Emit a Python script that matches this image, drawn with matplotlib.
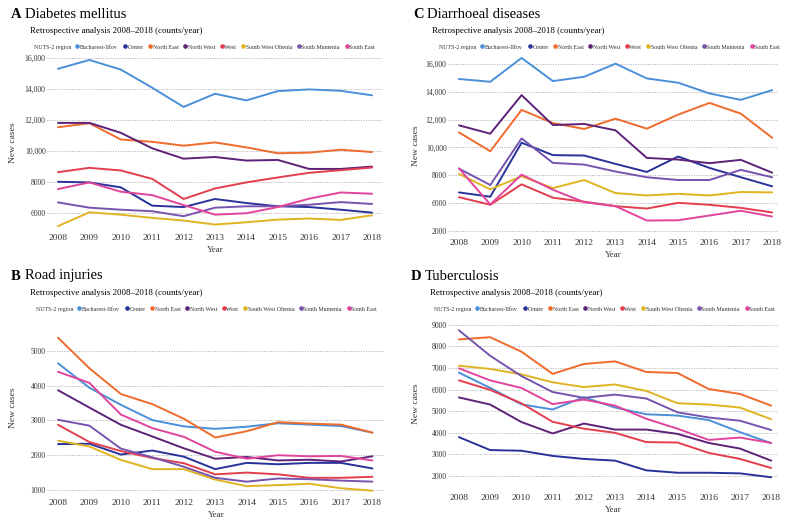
import numpy as np
import matplotlib.pyplot as plt
from matplotlib.lines import Line2D

plt.rcParams['font.family'] = ['Liberation Serif', 'DejaVu Serif']

years = list(range(2008, 2019))
regions = ['Bucharest-Ilfov', 'Center', 'North East', 'North West', 'West',
           'South West Oltenia', 'South Muntenia', 'South East']
colors = ['#4a8fd8', '#27339a', '#f06a2c', '#5e2178', '#e23e4e',
          '#e0b420', '#7654ae', '#e2449c']

# Diabetes mellitus
diabetes = {
    'Bucharest-Ilfov': [15300, 15870, 15250, 14080, 12840, 13690, 13260, 13860, 13970, 13880, 13590],
    'Center': [8010, 7970, 7650, 6470, 6380, 6900, 6640, 6430, 6380, 6210, 6020],
    'North East': [11530, 11790, 10740, 10590, 10340, 10550, 10230, 9850, 9890, 10080, 9930],
    'North West': [11810, 11810, 11170, 10170, 9500, 9610, 9380, 9420, 8840, 8840, 8990],
    'West': [8630, 8910, 8740, 8200, 6900, 7580, 7970, 8290, 8590, 8760, 8930],
    'South West Oltenia': [5150, 6040, 5890, 5680, 5510, 5250, 5400, 5570, 5640, 5550, 5850],
    'South Muntenia': [6680, 6340, 6210, 6110, 5790, 6340, 6430, 6430, 6530, 6700, 6580],
    'South East': [7540, 7970, 7370, 7150, 6510, 5890, 5980, 6380, 6920, 7320, 7240],
}

# Road injuries
road = {
    'Bucharest-Ilfov': [4645, 3940, 3450, 3010, 2830, 2760, 2820, 2920, 2880, 2840, 2650],
    'Center': [2320, 2330, 2020, 2135, 1960, 1600, 1780, 1740, 1780, 1780, 1620],
    'North East': [5380, 4500, 3760, 3470, 3050, 2510, 2690, 2950, 2910, 2880, 2650],
    'North West': [3870, 3370, 2875, 2540, 2200, 1900, 1950, 1850, 1870, 1820, 1970],
    'West': [2875, 2380, 2120, 1920, 1770, 1450, 1500, 1450, 1350, 1350, 1380],
    'South West Oltenia': [2420, 2250, 1865, 1600, 1600, 1300, 1110, 1140, 1180, 1050, 980],
    'South Muntenia': [3020, 2850, 2190, 1940, 1670, 1350, 1240, 1330, 1310, 1270, 1240],
    'South East': [4400, 4080, 3170, 2780, 2530, 2100, 1900, 2000, 1970, 1980, 1850],
}

# Diarrhoeal diseases
diarrhoea = {
    'Bucharest-Ilfov': [14920, 14720, 16430, 14770, 15080, 16020, 14960, 14650, 13880, 13420, 14120],
    'Center': [6770, 6460, 10340, 9450, 9420, 8820, 8240, 9350, 8530, 7860, 7210],
    'North East': [11080, 9730, 12700, 11750, 11330, 12070, 11350, 12360, 13200, 12430, 10700],
    'North West': [11590, 10990, 13760, 11610, 11690, 11230, 9250, 9130, 8870, 9110, 8190],
    'West': [6430, 5880, 7350, 6390, 6100, 5780, 5610, 6020, 5880, 5660, 5330],
    'South West Oltenia': [8100, 6990, 7930, 7080, 7660, 6720, 6550, 6670, 6550, 6800, 6770],
    'South Muntenia': [8480, 7300, 10650, 8890, 8770, 8270, 7860, 7660, 7660, 8390, 7860],
    'South East': [8500, 5900, 8050, 6960, 6070, 5780, 4750, 4770, 5110, 5450, 5040],
}

# Tuberculosis
tb = {
    'Bucharest-Ilfov': [6790, 6080, 5320, 5080, 5650, 5170, 4860, 4800, 4590, 4030, 3520],
    'Center': [3800, 3200, 3170, 2930, 2790, 2710, 2260, 2150, 2150, 2120, 1940],
    'North East': [8330, 8430, 7760, 6730, 7190, 7310, 6820, 6770, 6030, 5800, 5260],
    'North West': [5640, 5310, 4500, 3970, 4430, 4150, 4150, 3950, 3530, 3270, 2710],
    'West': [6430, 5990, 5370, 4510, 4190, 4000, 3570, 3550, 3070, 2790, 2370],
    'South West Oltenia': [7110, 6960, 6710, 6340, 6120, 6240, 5940, 5370, 5310, 5170, 4630],
    'South Muntenia': [8750, 7570, 6630, 5890, 5620, 5770, 5590, 4950, 4710, 4560, 4130],
    'South East': [6990, 6430, 6080, 5330, 5540, 5260, 4650, 4190, 3670, 3780, 3530],
}

W, H = 792, 525
fig = plt.figure(figsize=(7.92, 5.25), dpi=100)


def px_axes(l, t, r, b):
    return fig.add_axes([l / W, 1 - b / H, (r - l) / W, (b - t) / H])


def panel(data, letter, title, box, ylim, yticks, ylabels, xlim, tx, ty, ylab_x, leg_x):
    ax = px_axes(*box)
    for reg, c in zip(regions, colors):
        ax.plot(years, data[reg], color=c, lw=1.4, solid_capstyle='round')
    ax.set_xlim(*xlim)
    ax.set_ylim(*ylim)
    ax.set_xticks(years)
    ax.set_yticks(yticks)
    ax.set_yticklabels(ylabels)
    ax.tick_params(axis='both', length=0, colors='#333333')
    ax.tick_params(axis='y', labelsize=5.5, pad=1)
    ax.tick_params(axis='x', labelsize=6.8, pad=3)
    ax.yaxis.grid(True, ls=(0, (1, 1.5)), color='#aaaaaa', lw=0.7)
    for s in ax.spines.values():
        s.set_visible(False)
    ax.set_xlabel('Year', fontsize=6.5, color='#333333', labelpad=3)
    ax.set_ylabel('New cases', fontsize=6.8, color='#333333')
    ax.yaxis.set_label_coords((ylab_x - box[0]) / (box[2] - box[0]), 0.5)

    fig.text(tx / W, 1 - ty / H, letter, fontsize=10.5, fontweight='bold', va='center')
    fig.text((tx + 14) / W, 1 - ty / H, title, fontsize=10.5, va='center')
    fig.text((tx + 19) / W, 1 - (ty + 17) / H,
             'Retrospective analysis 2008\u20132018 (counts/year)', fontsize=6.4, va='center')

    handles = [Line2D([], [], ls='none')]
    labels = ['NUTS-2 region']
    for reg, c in zip(regions, colors):
        handles.append(Line2D([], [], ls='none', marker='o', ms=2.3, color=c))
        labels.append(reg)
    leg = ax.legend(handles, labels, ncol=9, frameon=False, fontsize=4.3,
                    loc='center',
                    bbox_to_anchor=((leg_x - box[0]) / (box[2] - box[0]),
                                    1 - (ty + 33 - box[1]) / (box[3] - box[1])),
                    handlelength=0.6, handletextpad=0.15, columnspacing=0.8,
                    borderaxespad=0, borderpad=0)
    for t in leg.get_texts():
        t.set_color('#333333')
    return ax


panel(diabetes, 'A', 'Diabetes mellitus', (47, 55, 383, 230),
      (4900, 16190), [6000, 8000, 10000, 12000, 14000, 16000],
      ['6000', '8000', '10,000', '12,000', '14,000', '16,000'],
      (2007.65, 2018.35), 11, 14, 17, 202)

panel(road, 'B', 'Road injuries', (47, 320, 385, 495),
      (856, 5890), [1000, 2000, 3000, 4000, 5000],
      ['1000', '2000', '3000', '4000', '5000'],
      (2007.65, 2018.4), 11, 276, 17, 204)

panel(diarrhoea, 'C', 'Diarrhoeal diseases', (448, 57, 779, 235),
      (3710, 16500), [4000, 6000, 8000, 10000, 12000, 14000, 16000],
      ['2000', '6000', '8000', '10,000', '12,000', '14,000', '16,000'],
      (2007.65, 2018.22), 413, 14, 420, 607)

panel(tb, 'D', 'Tuberculosis', (448, 318, 779, 490),
      (1350, 9320), [2000, 3000, 4000, 5000, 6000, 7000, 8000, 9000],
      ['2000', '3000', '4000', '5000', '6000', '7000', '8000', '9000'],
      (2007.65, 2018.25), 411, 276, 420, 602)

fig.savefig('out.png', dpi=100)
